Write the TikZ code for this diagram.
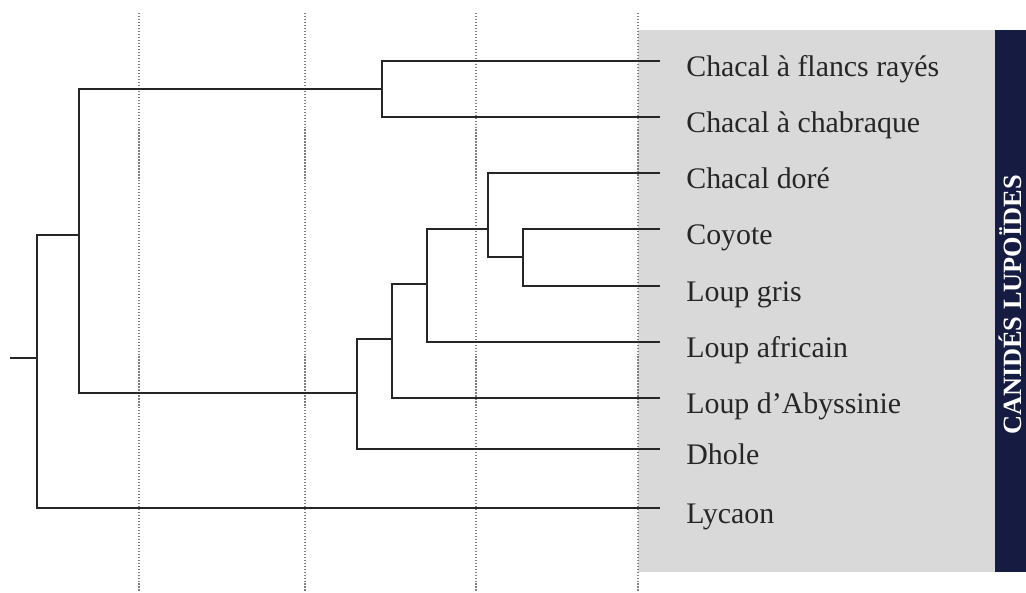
\documentclass[tikz,border=0pt]{standalone}
\usepackage{fontspec}
\setmainfont{Liberation Serif}
\usetikzlibrary{positioning}
\definecolor{panelgray}{RGB}{217,217,217}
\definecolor{bannernavy}{RGB}{22,27,66}
\begin{document}
\begin{tikzpicture}[
    x=0.02cm, y=-0.02cm,
    branch/.style={line width=1.1pt, black!85},
    timeline/.style={densely dotted, gray, line width=0.7pt},
    species/.style={anchor=base west, inner sep=0pt,
        font=\fontsize{17}{19}\selectfont, text=black!85},
    clade/.style={font=\fontsize{15}{17}\selectfont\bfseries,
        text=white, rotate=90, inner sep=0pt},
    ]
    \useasboundingbox (0,0) rectangle (1026,592);

    % Grey panel and side banner
    \fill[panelgray] (638,30) rectangle (995,572);
    \fill[bannernavy] (995,30) rectangle (1026,572);
    \node[clade] (lupoides) at (1010,305) {CANIDÉS LUPOÏDES};

    % Vertical dotted lines
    \foreach \x in {139,305,476,638}
        \draw[timeline] (\x,13) -- (\x,592);

    % Leaves
    \foreach \name/\y/\txt in {flancs/61/Chacal à flancs rayés,
        chabraque/117/Chacal à chabraque, dore/173/Chacal doré,
        coyote/229/Coyote, gris/286/Loup gris,
        africain/342/Loup africain, abyssinie/398/Loup d'Abyssinie,
        dhole/449/Dhole, lycaon/508/Lycaon}
    {
        \coordinate (\name) at (660,\y);
        \node[species] (\name-txt) at (686,\y+15) {\txt};
    }

    % Internal nodes
    \coordinate (stub) at (10,358);
    \coordinate (root) at (37,358);
    \coordinate (canis) at (79,235);
    \coordinate (jackals) at (382,89);
    \coordinate (dholes) at (357,393);
    \coordinate (wolves) at (392,339);
    \coordinate (african) at (427,284);
    \coordinate (golden) at (488,229);
    \coordinate (grey) at (523,257);

    % Branches
    \draw[branch] (stub) -- (root);
    \draw[branch] (root) |- (canis) (root) |- (lycaon);
    \draw[branch] (canis) |- (jackals) (canis) |- (dholes);
    \draw[branch] (jackals) |- (flancs) (jackals) |- (chabraque);
    \draw[branch] (dholes) |- (wolves) (dholes) |- (dhole);
    \draw[branch] (wolves) |- (african) (wolves) |- (abyssinie);
    \draw[branch] (african) |- (golden) (african) |- (africain);
    \draw[branch] (golden) |- (dore) (golden) |- (grey);
    \draw[branch] (grey) |- (coyote) (grey) |- (gris);

\end{tikzpicture}
\end{document}
